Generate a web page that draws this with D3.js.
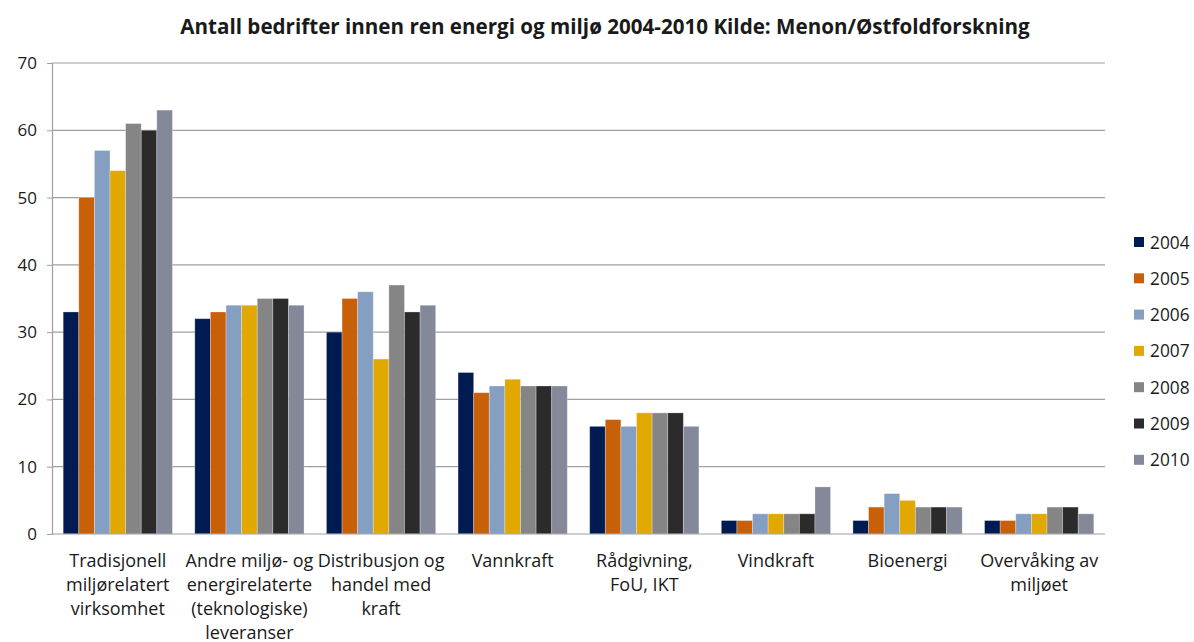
<!DOCTYPE html>
<html>
<head>
<meta charset="utf-8">
<script src="https://cdn.jsdelivr.net/npm/d3@7"></script>
<style>
  html, body { margin: 0; padding: 0; background: #fff; }
  svg { display: block; font-family: "Open Sans", "Noto Sans", sans-serif; }
</style>
</head>
<body>
<svg id="chart" width="1194" height="642"></svg>
<script>
// Categories and yearly counts of companies
const categories = [
  ["Tradisjonell", "miljørelatert", "virksomhet"],
  ["Andre miljø- og", "energirelaterte", "(teknologiske)", "leveranser"],
  ["Distribusjon og", "handel med", "kraft"],
  ["Vannkraft"],
  ["Rådgivning,", "FoU, IKT"],
  ["Vindkraft"],
  ["Bioenergi"],
  ["Overvåking av", "miljøet"]
];
const years = ["2004", "2005", "2006", "2007", "2008", "2009", "2010"];
const v2004 = [33, 32, 30, 24, 16, 2, 2, 2];
const v2005 = [50, 33, 35, 21, 17, 2, 4, 2];
const v2006 = [57, 34, 36, 22, 16, 3, 6, 3];
const v2007 = [54, 34, 26, 23, 18, 3, 5, 3];
const v2008 = [61, 35, 37, 22, 18, 3, 4, 4];
const v2009 = [60, 35, 33, 22, 18, 3, 4, 4];
const v2010 = [63, 34, 34, 22, 16, 7, 4, 3];
const yTicks = [0, 10, 20, 30, 40, 50, 60, 70];
const title = "Antall bedrifter innen ren energi og miljø 2004-2010 Kilde: Menon/Østfoldforskning";

const series = [v2004, v2005, v2006, v2007, v2008, v2009, v2010];
const colors = ["#001B52", "#C8600A", "#849FC2", "#E0A800", "#858585", "#2B2B2B", "#858899"];

const svg = d3.select("#chart");
const m = { left: 52, right: 1105, top: 63, bottom: 534 };

const x0 = d3.scaleBand()
  .domain(d3.range(categories.length))
  .range([m.left, m.right])
  .paddingInner(0.17)
  .paddingOuter(0.085);
const x1 = d3.scaleBand()
  .domain(years)
  .range([0, x0.bandwidth()]);
const y = d3.scaleLinear().domain([0, 70]).range([m.bottom, m.top]);

// Title
svg.append("text")
  .attr("x", 605).attr("y", 34)
  .attr("text-anchor", "middle")
  .attr("font-size", 20.6).attr("font-weight", "bold")
  .attr("fill", "#1a1a1a")
  .text(title);

// Gridlines
svg.append("g")
  .selectAll("line")
  .data(yTicks.filter(t => t > 0))
  .join("line")
  .attr("x1", m.left).attr("x2", m.right)
  .attr("y1", d => y(d)).attr("y2", d => y(d))
  .attr("stroke", "#a0a0a0").attr("stroke-width", 1.2);

// Y axis
const yAxis = svg.append("g")
  .attr("transform", `translate(${m.left},0)`)
  .call(d3.axisLeft(y).tickValues(yTicks).tickSize(5).tickPadding(10));
yAxis.select(".domain").attr("stroke", "#a0a0a0").attr("stroke-width", 1.2);
yAxis.selectAll(".tick line").attr("stroke", "#a0a0a0");
yAxis.selectAll(".tick text")
  .attr("font-size", 17).attr("fill", "#1a1a1a")
  .attr("font-family", "'Open Sans', sans-serif");

// Bars
const groups = svg.append("g")
  .selectAll("g")
  .data(categories.map((c, i) => i))
  .join("g")
  .attr("transform", i => `translate(${x0(i)},0)`);

groups.selectAll("rect")
  .data(i => years.map((yr, k) => ({ yr, k, v: series[k][i] })))
  .join("rect")
  .attr("x", d => x1(d.yr))
  .attr("width", x1.bandwidth())
  .attr("y", d => y(d.v))
  .attr("height", d => y(0) - y(d.v))
  .attr("fill", d => colors[d.k])
  .attr("stroke", "rgba(255,255,255,0.35)")
  .attr("stroke-width", 0.8);

// X axis baseline
svg.append("line")
  .attr("x1", m.left).attr("x2", m.right)
  .attr("y1", y(0)).attr("y2", y(0))
  .attr("stroke", "#a0a0a0").attr("stroke-width", 1.2);

// Category labels
const labels = svg.append("g")
  .selectAll("text")
  .data(categories)
  .join("text")
  .attr("x", (d, i) => x0(i) + x0.bandwidth() / 2)
  .attr("y", 567)
  .attr("text-anchor", "middle")
  .attr("font-size", 18).attr("fill", "#1a1a1a");
labels.selectAll("tspan")
  .data(d => d)
  .join("tspan")
  .attr("x", function() { return this.parentNode.getAttribute("x"); })
  .attr("dy", (d, j) => j === 0 ? 0 : 24)
  .text(d => d);

// Legend
const legend = svg.append("g")
  .selectAll("g")
  .data(years)
  .join("g")
  .attr("transform", (d, k) => `translate(1134,${242 + k * 36.3})`);
legend.append("rect")
  .attr("x", 0).attr("y", -5)
  .attr("width", 10).attr("height", 10)
  .attr("fill", (d, k) => colors[k]);
legend.append("text")
  .attr("x", 16).attr("y", 6.5)
  .attr("font-size", 17.3).attr("fill", "#1a1a1a")
  .text(d => d);
</script>
</body>
</html>
